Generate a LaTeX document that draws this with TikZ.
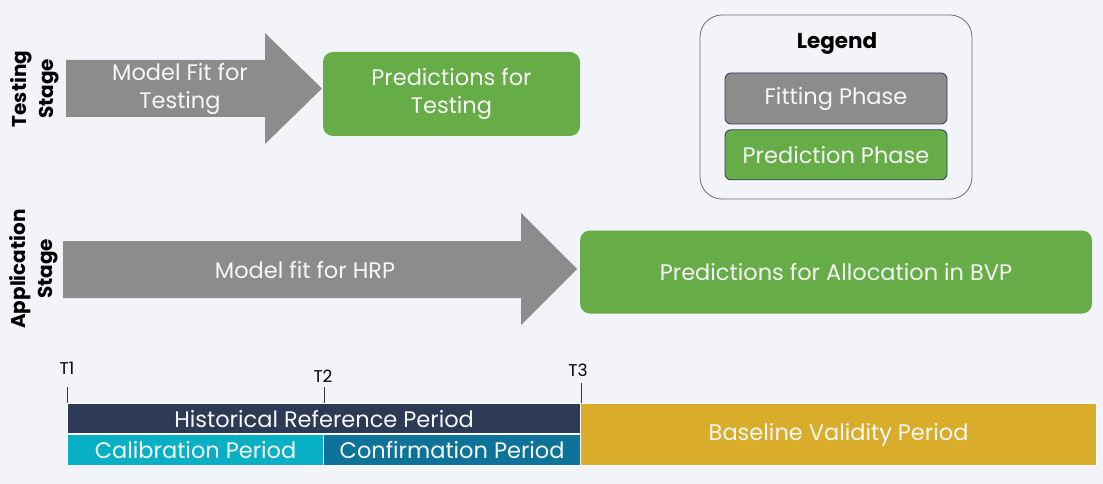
\documentclass[tikz,border=0pt]{standalone}
\usepackage{fontspec}
\setmainfont{Poppins}
\usetikzlibrary{positioning}

\definecolor{bgc}{RGB}{243,244,250}
\definecolor{fitgray}{RGB}{140,140,140}
\definecolor{predgreen}{RGB}{102,172,71}
\definecolor{navy}{RGB}{44,58,86}
\definecolor{calcyan}{RGB}{8,176,198}
\definecolor{confteal}{RGB}{14,115,153}
\definecolor{gold}{RGB}{217,173,41}
\definecolor{frame}{RGB}{110,110,110}

\begin{document}
\begin{tikzpicture}[
  x=1pt, y=-1pt,
  txt/.style={text=white!97!black, align=center, font=\fontsize{22.5}{28}\selectfont},
  stage/.style={rotate=90, align=center, font=\bfseries\fontsize{20}{27}\selectfont},
  fitshape/.style={fill=fitgray},
  predbox/.style={txt, fill=predgreen, rounded corners=10pt, inner sep=0pt},
  keybox/.style={txt, draw=navy, thick, rounded corners=6pt, inner sep=0pt,
                 minimum width=222, minimum height=50},
  bar/.style={txt, draw=white, line width=1.2pt, inner sep=0pt, anchor=north west},
  tlabel/.style={font=\fontsize{17}{19}\selectfont, inner sep=1pt},
  tick/.style={thick, navy},
]
\useasboundingbox (0,0) rectangle (1103,484);
\fill[bgc] (0,0) rectangle (1103,484);

% ---- testing stage (top row) -----------------------------------------------
\node[stage] (teststage) at (35,89) {Testing\\Stage};
\fill[fitshape] (66,60) -- (265,60) -- (265,33) -- (322,88.5)
      -- (265,144) -- (265,117) -- (66,117) -- cycle;
\node[txt] (fittest) at (180,89) {Model Fit for\\Testing};
\node[predbox, minimum width=257, minimum height=84] (predtest) at (451.5,94)
     {Predictions for\\Testing};

% ---- application stage -----------------------------------------------------
\node[stage] (appstage) at (34,269) {Application\\Stage};
\fill[fitshape] (63,241) -- (521,241) -- (521,213) -- (577,269)
      -- (521,325) -- (521,298) -- (63,298) -- cycle;
\node[txt] (fithrp) at (305,270) {Model fit for HRP};
\node[predbox, minimum width=512, minimum height=83] (predbvp) at (836,272)
     {Predictions for Allocation in BVP};

% ---- legend ----------------------------------------------------------------
\draw[frame, thick, rounded corners=22pt] (700,15) rectangle (972,199);
\node[font=\bfseries\fontsize{21.5}{24}\selectfont] (legend) at (837,44) {Legend};
\node[keybox, fill=fitgray, minimum height=51] (keyfit) at (836,98.5) {Fitting Phase};
\node[keybox, fill=predgreen, below=5pt of keyfit] (keypred) {Prediction Phase};

% ---- timeline --------------------------------------------------------------
\node[bar, fill=navy, minimum width=513, minimum height=30] (hrp) at (67,403)
     {Historical Reference Period};
\node[bar, fill=calcyan, minimum width=256, minimum height=31] (cal) at (67,434)
     {Calibration Period};
\node[bar, fill=confteal, minimum width=257, minimum height=31] (conf) at (323,434)
     {Confirmation Period};
\node[bar, fill=gold, minimum width=516, minimum height=62] (bvp) at (580,403)
     {Baseline Validity Period};

\node[tlabel] (t1) at (67,368) {T1};
\node[tlabel] (t2) at (323,376) {T2};
\node[tlabel] (t3) at (578,370) {T3};
\draw[tick] (hrp.north west) -- ++(0,-16);
\draw[tick] (cal.north east |- hrp.north) -- ++(0,-16);
\draw[tick] (hrp.north east) -- ++(0,-20);
\end{tikzpicture}
\end{document}
